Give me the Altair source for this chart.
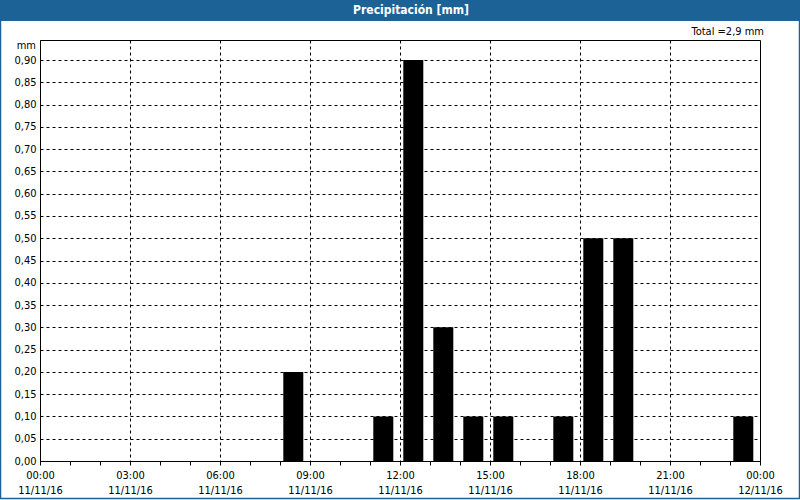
import altair as alt
import pandas as pd

# Data
hours = [8, 11, 12, 13, 14, 15, 17, 18, 19, 23]
precip = [0.20, 0.10, 0.90, 0.30, 0.10, 0.10, 0.10, 0.50, 0.50, 0.10]
y_ticks = [0.00, 0.05, 0.10, 0.15, 0.20, 0.25, 0.30, 0.35, 0.40, 0.45,
           0.50, 0.55, 0.60, 0.65, 0.70, 0.75, 0.80, 0.85, 0.90]
x_tick_times = ["00:00", "03:00", "06:00", "09:00", "12:00", "15:00", "18:00", "21:00", "00:00"]
x_tick_dates = ["11/11/16"] * 8 + ["12/11/16"]
title_text = "Precipitación [mm]"
total_text = "Total =2,9 mm"

df = pd.DataFrame({"hour": hours, "mm": precip})
one = pd.DataFrame({"k": [0]})

times_js = "[" + ",".join("'%s'" % t for t in x_tick_times) + "]"
dates_js = "[" + ",".join("'%s'" % d for d in x_tick_dates) + "]"
label_expr = (f"datum.value % 3 != 0 ? '' : "
              f"[{times_js}[datum.value/3], {dates_js}[datum.value/3]]")

FONT = "DejaVu Sans Condensed, DejaVu Sans"

x_scale = alt.Scale(domain=[0, 24], nice=False, zero=False, padding=0)
y_scale = alt.Scale(domain=[0, 0.945], nice=False, padding=0)

bars = alt.Chart(df).mark_bar(width=20, xOffset=13.3, color="black").encode(
    x=alt.X("hour:Q", scale=x_scale, title=None,
            axis=alt.Axis(values=list(range(25)), labelExpr=label_expr,
                          grid=True,
                          gridOpacity={"condition": {"test": "datum.value % 3 == 0 && datum.value > 0 && datum.value < 24", "value": 1}, "value": 0},
                          gridColor="black", gridDash=[3, 3], gridWidth=1,
                          domainColor="black", tickColor="black", tickSize=4,
                          labelFont=FONT, labelFontSize=11, labelColor="black",
                          labelLineHeight=15, labelPadding=4, labelFlush=False,
                          labelOverlap=False, labelBaseline="top", labelAlign="center")),
    y=alt.Y("mm:Q", scale=y_scale, title=None,
            axis=alt.Axis(values=y_ticks, labelExpr="replace(format(datum.value, '.2f'), '.', ',')",
                          grid=True, gridColor="black", gridDash=[3, 3], gridWidth=1,
                          domainColor="black", ticks=False, labelPadding=4,
                          labelFont=FONT, labelFontSize=11, labelColor="black")),
)

title_bar = alt.Chart(one).mark_rect(color="#1d6296").encode(
    x=alt.value(-40), x2=alt.value(760), y=alt.value(-40), y2=alt.value(-19))

title_txt = alt.Chart(one).mark_text(text=title_text, color="white", fontWeight="bold",
                                     font=FONT, fontSize=12, align="center", baseline="middle").encode(
    x=alt.value(371), y=alt.value(-30))

total_txt = alt.Chart(one).mark_text(text=total_text, color="black", font=FONT, fontSize=11,
                                     align="right", baseline="middle").encode(
    x=alt.value(724), y=alt.value(-8))

mm_txt = alt.Chart(one).mark_text(text="mm", color="black", font=FONT, fontSize=11,
                                  align="right", baseline="middle").encode(
    x=alt.value(-4), y=alt.value(6))

frame = alt.Chart(one).mark_rect(fill=None, stroke="#1d6296", strokeWidth=1.5).encode(
    x=alt.value(-39.5), x2=alt.value(759.5), y=alt.value(-40), y2=alt.value(458.5))

chart = alt.layer(title_bar, bars, title_txt, total_txt, mm_txt, frame).properties(
    width=720, height=421,
    autosize=alt.AutoSizeParams(type="none"),
    padding={"left": 40, "top": 40, "right": 40, "bottom": 39},
    background="white",
).configure_view(stroke="black", strokeWidth=1)

chart.save("out.html", embed_options={"renderer": "svg", "actions": False})
